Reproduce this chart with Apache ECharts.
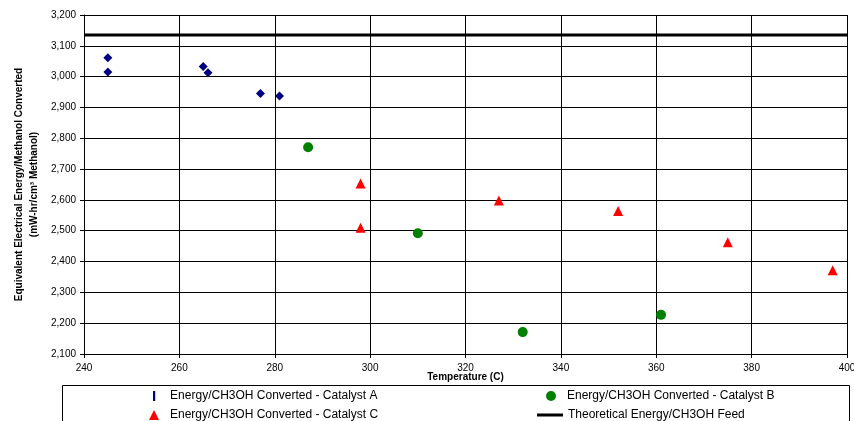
<!DOCTYPE html>
<html>
<head>
<meta charset="utf-8">
<script src="https://cdn.jsdelivr.net/npm/echarts@6/dist/echarts.min.js"></script>
<style>
html,body{margin:0;padding:0;background:#fff;}
#chart{width:854px;height:421px;}
</style>
</head>
<body>
<div id="chart"></div>
<script>
var tempA = [245, 245, 265, 266, 277, 281];
var energyA = [3061, 3015, 3033, 3013, 2945, 2937];
var tempB = [287, 310, 332, 361];
var energyB = [2771, 2492, 2171, 2227];
var tempC = [298, 298, 327, 352, 375, 397];
var energyC = [2653, 2510, 2598, 2564, 2463, 2372];
var theoreticalX = [240, 400];
var theoreticalY = [3135, 3135];

var nameA = 'Energy/CH3OH Converted - Catalyst A';
var nameB = 'Energy/CH3OH Converted - Catalyst B';
var nameC = 'Energy/CH3OH Converted - Catalyst C';
var nameT = 'Theoretical Energy/CH3OH Feed';

function zip(xs, ys) { return xs.map(function (x, i) { return [x, ys[i]]; }); }

var FONT = '"Liberation Sans", Arial, sans-serif';
var legendText = {fontFamily: FONT, fontSize: 12, color: '#000', lineHeight: 14};
function legendItem(item, left, top, w, h) {
  return {
    orient: 'horizontal', left: left, top: top, padding: 0,
    itemWidth: w, itemHeight: h, selectedMode: false,
    textStyle: legendText, data: [item]
  };
}

var chart = echarts.init(document.getElementById('chart'), null, {renderer: 'canvas'});
chart.setOption({
  animation: false,
  backgroundColor: '#fff',
  textStyle: {fontFamily: FONT},
  grid: {left: 84, right: 7, top: 15, bottom: 67, containLabel: false, outerBoundsMode: 'none'},
  xAxis: {
    type: 'value', min: 240, max: 400, interval: 20,
    name: 'Temperature (C)', nameLocation: 'middle', nameGap: 18, nameMoveOverlap: false,
    nameTextStyle: {fontFamily: FONT, fontSize: 10, fontWeight: 'bold', color: '#000'},
    axisLine: {show: true, onZero: false, lineStyle: {color: '#000', width: 1}},
    axisTick: {show: true, length: 4, lineStyle: {color: '#000'}},
    axisLabel: {fontFamily: FONT, fontSize: 10, color: '#000', margin: 9},
    splitLine: {show: true, lineStyle: {color: '#000', width: 1}}
  },
  yAxis: {
    type: 'value', min: 2100, max: 3200, interval: 100,
    name: 'Equivalent Electrical Energy/Methanol Converted\n(mW-hr/cm\u00B3 Methanol)',
    nameLocation: 'middle', nameGap: 42, nameRotate: 90, nameMoveOverlap: false,
    nameTextStyle: {fontFamily: FONT, fontSize: 10, fontWeight: 'bold', color: '#000', lineHeight: 15},
    axisLine: {show: true, onZero: false, lineStyle: {color: '#000', width: 1}},
    axisTick: {show: true, length: 4, lineStyle: {color: '#000'}},
    axisLabel: {fontFamily: FONT, fontSize: 10, color: '#000', margin: 8,
      formatter: function (v) { return v.toLocaleString('en-US'); }},
    splitLine: {show: true, lineStyle: {color: '#000', width: 1}}
  },
  legend: [
    legendItem({name: nameA, icon: 'path://M0,0h2v9h-2z'}, 153, 389, 22, 10),
    legendItem({name: nameC, icon: 'path://M5,0L10,10L0,10Z'}, 149, 408, 22, 10),
    legendItem({name: nameB, icon: 'circle'}, 546, 389, 22, 10),
    legendItem({name: nameT, icon: 'rect'}, 537, 408, 26, 3)
  ],
  graphic: [{
    type: 'rect', silent: true, z: -1,
    shape: {x: 62.5, y: 385.5, width: 787, height: 60},
    style: {fill: 'none', stroke: '#000', lineWidth: 1}
  }],
  series: [
    {name: nameA, type: 'scatter', symbol: 'diamond', symbolSize: 9,
     itemStyle: {color: '#000080', opacity: 1}, data: zip(tempA, energyA)},
    {name: nameB, type: 'scatter', symbol: 'circle', symbolSize: 10,
     itemStyle: {color: '#008000', opacity: 1}, data: zip(tempB, energyB)},
    {name: nameC, type: 'scatter', symbol: 'triangle', symbolSize: 10,
     itemStyle: {color: '#FF0000', opacity: 1}, data: zip(tempC, energyC)},
    {name: nameT, type: 'line', symbol: 'none', showSymbol: false,
     lineStyle: {color: '#000', width: 3}, itemStyle: {color: '#000'},
     data: zip(theoreticalX, theoreticalY)}
  ]
});
</script>
</body>
</html>
